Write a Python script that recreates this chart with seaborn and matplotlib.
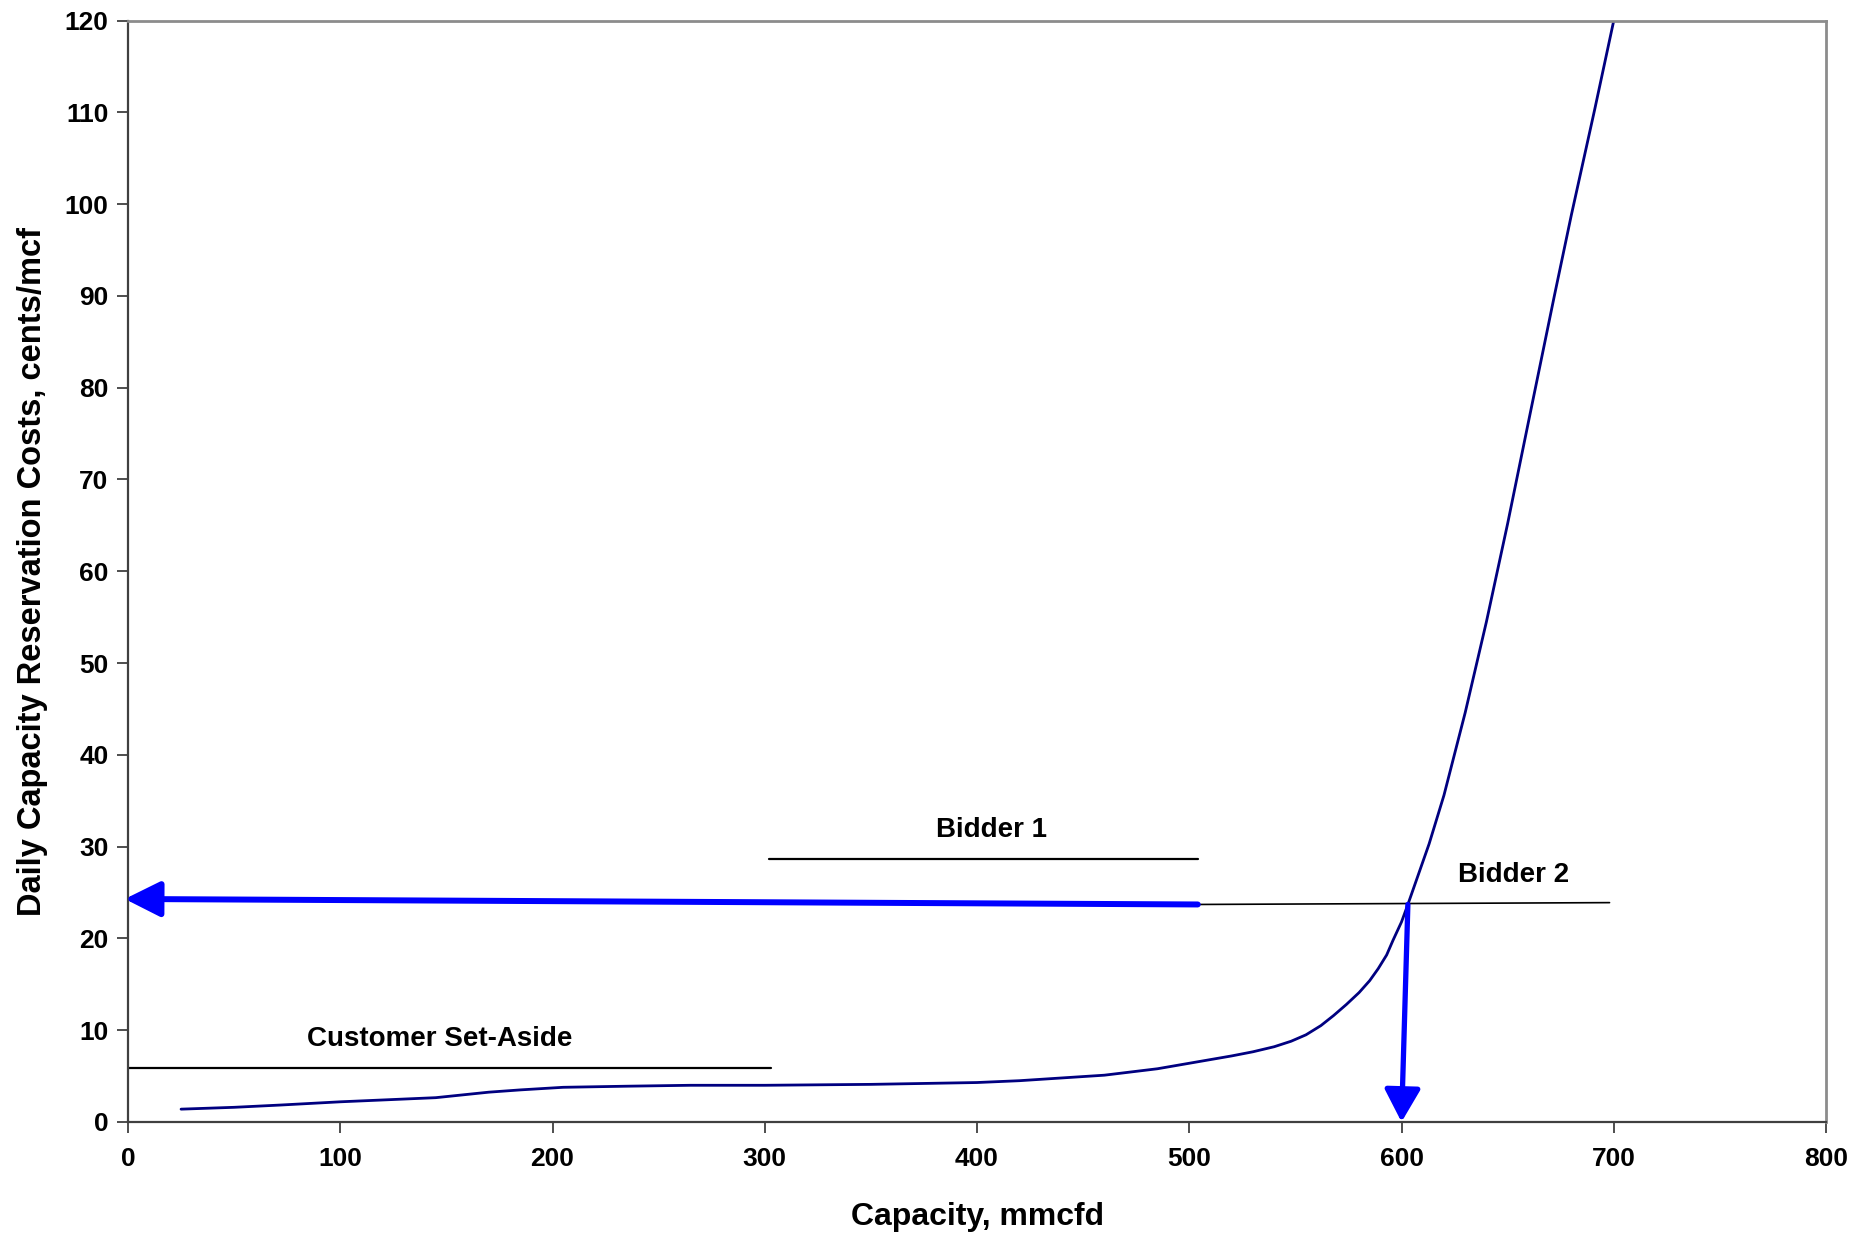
import numpy as np
import pandas as pd
import matplotlib
matplotlib.use("Agg")
import matplotlib.pyplot as plt
import seaborn as sns

# supply curve
capacity = [25, 50, 72, 100, 125, 145, 170, 185, 205, 235, 265, 300, 350, 400,
            420, 460, 485, 500, 510, 520, 530, 540, 548, 555, 562, 568, 574,
            580, 585, 589, 593, 596, 600, 603, 608, 613, 620, 630, 640, 650, 660,
            672, 680, 691, 700]
cost = [1.4, 1.6, 1.85, 2.2, 2.45, 2.65, 3.25, 3.5, 3.78, 3.9, 4.0, 4.0, 4.1, 4.3,
        4.5, 5.1, 5.8, 6.4, 6.8, 7.2, 7.65, 8.2, 8.8, 9.5, 10.5, 11.6, 12.8,
        14.1, 15.4, 16.7, 18.2, 19.8, 21.8, 23.7, 27.0, 30.3, 35.6, 44.6, 54.5, 65.2,
        76.5, 90.0, 98.8, 110.3, 120.0]

# bid blocks
setaside_x = [0, 303]
setaside_y = [5.9, 5.9]
bidder1_x = [302, 504]
bidder1_y = [28.7, 28.7]
bidder2_x = [504, 698]
bidder2_y = [23.7, 23.9]

# clearing price / quantity arrows
price_arrow_from = (504, 23.7)
price_arrow_to = (-1.5, 24.3)
qty_arrow_from = (603, 23.7)
qty_arrow_to = (600, 0.0)

labels = ["Customer Set-Aside", "Bidder 1", "Bidder 2"]
label_x = [147, 407, 653]
label_y = [9.0, 31.8, 26.9]

sns.set_style("ticks")
plt.rcParams['font.family'] = ['Liberation Sans', 'DejaVu Sans']
plt.rcParams['font.weight'] = 'bold'
plt.rcParams['text.color'] = 'black'
plt.rcParams['axes.labelcolor'] = 'black'
plt.rcParams['xtick.color'] = 'black'
plt.rcParams['ytick.color'] = 'black'

fig = plt.figure(figsize=(18.74, 12.38), dpi=100)
ax = fig.add_axes([0.0683, 0.0937, 0.9061, 0.8897])

df = pd.DataFrame({'Capacity': capacity, 'Cost': cost})
sns.lineplot(data=df, x='Capacity', y='Cost', ax=ax, color='#000080', lw=2.0, sort=False)

sns.lineplot(x=setaside_x, y=setaside_y, ax=ax, color='black', lw=1.6)
sns.lineplot(x=bidder1_x, y=bidder1_y, ax=ax, color='black', lw=1.6)
sns.lineplot(x=bidder2_x, y=bidder2_y, ax=ax, color='black', lw=1.2)

ax.annotate('', xy=price_arrow_to, xytext=price_arrow_from,
            arrowprops=dict(arrowstyle='-|>,head_length=1.08,head_width=0.54',
                            mutation_scale=20, color='#0000FF', lw=4.3,
                            shrinkA=0, shrinkB=0), annotation_clip=False)
ax.annotate('', xy=qty_arrow_to, xytext=qty_arrow_from,
            arrowprops=dict(arrowstyle='-|>,head_length=1.0,head_width=0.55',
                            mutation_scale=20, color='#0000FF', lw=3.8,
                            shrinkA=0, shrinkB=0), annotation_clip=False)

for t, lx, ly in zip(labels, label_x, label_y):
    ax.text(lx, ly, t, ha='center', va='center', fontsize=20, fontweight='bold')

ax.set_xlim(0, 800)
ax.set_ylim(0, 120)
ax.set_xticks(np.arange(0, 801, 100))
ax.set_yticks(np.arange(0, 121, 10))
ax.tick_params(axis='both', labelsize=19, length=8, width=1.3, color='#404040')
ax.tick_params(axis='x', pad=10)
ax.tick_params(axis='y', pad=6)
for lab in ax.get_xticklabels() + ax.get_yticklabels():
    lab.set_fontweight('bold')

ax.set_xlabel('Capacity, mmcfd', fontsize=23, fontweight='bold', labelpad=22)
ax.set_ylabel('Daily Capacity Reservation Costs, cents/mcf', fontsize=23.5,
              fontweight='bold', labelpad=12)

for s in ['left', 'bottom']:
    ax.spines[s].set_color('#404040')
    ax.spines[s].set_linewidth(1.6)
for s in ['top', 'right']:
    ax.spines[s].set_color('#8c8c8c')
    ax.spines[s].set_linewidth(2.0)

fig.savefig('out.png', dpi=100)
